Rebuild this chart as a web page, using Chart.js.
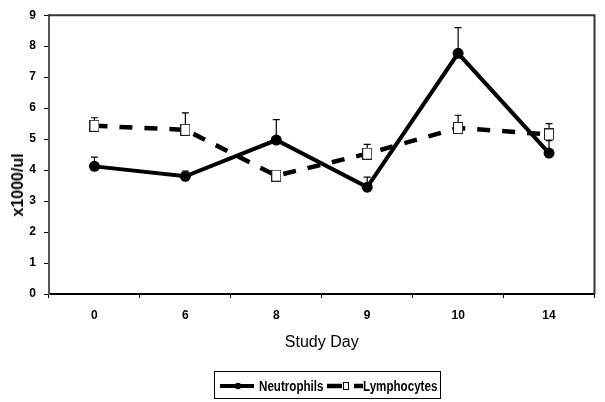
<!DOCTYPE html>
<html>
<head>
<meta charset="utf-8">
<script src="https://cdn.jsdelivr.net/npm/chart.js@4.4.1/dist/chart.umd.min.js"></script>
<style>
  html, body { margin: 0; padding: 0; background: #fff; }
  #wrap { position: relative; width: 605px; height: 402px; overflow: hidden; }
  #c { position: absolute; left: 0; top: 0; }
  #legend { position: absolute; left: 214px; top: 371px; width: 225px; height: 26px; border: 1px solid #000; box-sizing: content-box; }
  .ltxt { position: absolute; top: 0; height: 26px; line-height: 28px; font-family: 'Liberation Sans', Arial, sans-serif; font-weight: bold; font-size: 14.5px; color: #000; white-space: nowrap; transform: scaleX(0.8); transform-origin: 0 50%; }
  #legend svg { position: absolute; left: 0; top: 0; }
  #ytitle { position: absolute; left: 18px; top: 185px; transform: translate(-50%, -50%) rotate(-90deg); font-family: 'Liberation Sans', Arial, sans-serif; font-weight: bold; font-size: 16px; color: #000; white-space: nowrap; line-height: 1; }
</style>
</head>
<body>
<div id="wrap">
  <canvas id="c" width="605" height="402"></canvas>
  <div id="ytitle"></div>
  <div id="legend">
    <svg width="225" height="26">
      <line x1="5" y1="14" x2="39" y2="14" stroke="#000" stroke-width="4"/>
      <circle cx="23" cy="14" r="3.2" fill="#000"/>
      <line x1="112" y1="14" x2="127" y2="14" stroke="#000" stroke-width="4.5"/>
      <line x1="139" y1="14" x2="148" y2="14" stroke="#000" stroke-width="4.5"/>
      <rect x="128.5" y="10.5" width="5" height="7" fill="#fff" stroke="#000" stroke-width="1"/>
    </svg>
    <span class="ltxt" id="lg0" style="left:44px"></span>
    <span class="ltxt" id="lg1" style="left:148px"></span>
  </div>
</div>
<script>
// ---- data ----
const categories = ['0', '6', '8', '9', '10', '14'];
const neutrophils = [4.12, 3.8, 4.97, 3.45, 7.77, 4.55];
const neutrophilsErr = [0.3, 0.17, 0.66, 0.32, 0.83, 0.4];
const lymphocytes = [5.43, 5.3, 3.82, 4.53, 5.36, 5.15];
const lymphocytesErr = [0.26, 0.55, 0, 0.3, 0.41, 0.35];
const seriesNames = ['Neutrophils', 'Lymphocytes'];
const yMin = 0, yMax = 9, yStep = 1;
const xTitle = 'Study Day';
const yTitle = 'x1000/ul';

document.getElementById('ytitle').textContent = yTitle;
document.getElementById('lg0').textContent = seriesNames[0];
document.getElementById('lg1').textContent = seriesNames[1];

const SANS = "'Liberation Sans', Arial, sans-serif";

// square marker (slightly tall like the reference)
const sq = document.createElement('canvas');
sq.width = 10; sq.height = 12;
(function () {
  const g = sq.getContext('2d');
  g.fillStyle = '#fff';
  g.fillRect(0, 0, 10, 12);
  g.strokeStyle = '#222';
  g.lineWidth = 1;
  g.strokeRect(0.5, 0.5, 9, 11);
})();

const errorBars = {
  id: 'errorBars',
  beforeDatasetsDraw(chart) {
    const ctx = chart.ctx;
    const ys = chart.scales.y;
    ctx.save();
    ctx.strokeStyle = '#000';
    ctx.lineWidth = 1.2;
    chart.data.datasets.forEach((ds, di) => {
      const meta = chart.getDatasetMeta(di);
      (ds.errors || []).forEach((e, i) => {
        if (!e) return;
        const pt = meta.data[i];
        const y0 = ys.getPixelForValue(ds.data[i]);
        const y1 = ys.getPixelForValue(ds.data[i] + e);
        ctx.beginPath();
        ctx.moveTo(pt.x, y0);
        ctx.lineTo(pt.x, y1);
        ctx.moveTo(pt.x - 3.5, y1);
        ctx.lineTo(pt.x + 3.5, y1);
        ctx.stroke();
      });
    });
    ctx.restore();
  }
};

const frame = {
  id: 'frame',
  afterDraw(chart) {
    const { ctx, chartArea: a } = chart;
    ctx.save();
    ctx.strokeStyle = '#333';
    ctx.lineWidth = 2;
    ctx.beginPath();
    ctx.moveTo(a.left, a.top);
    ctx.lineTo(a.right, a.top);
    ctx.lineTo(a.right, a.bottom);
    ctx.stroke();
    ctx.restore();
  }
};

new Chart(document.getElementById('c'), {
  type: 'line',
  data: {
    labels: categories,
    datasets: [
      {
        label: seriesNames[0],
        data: neutrophils,
        errors: neutrophilsErr,
        borderColor: '#000',
        backgroundColor: '#000',
        borderWidth: 4,
        pointStyle: 'circle',
        pointRadius: 5.5,
        pointBackgroundColor: '#000',
        pointBorderWidth: 0,
        tension: 0,
        fill: false
      },
      {
        label: seriesNames[1],
        data: lymphocytes,
        errors: lymphocytesErr,
        borderColor: '#000',
        backgroundColor: '#fff',
        borderWidth: 4.5,
        borderDash: [13, 12],
        pointStyle: sq,
        pointRadius: 6,
        tension: 0,
        fill: false
      }
    ]
  },
  options: {
    responsive: false,
    devicePixelRatio: 1,
    animation: false,
    layout: { padding: { top: 10, right: 1, bottom: 48, left: 0 } },
    plugins: { legend: { display: false }, tooltip: { enabled: false } },
    scales: {
      x: {
        type: 'category',
        offset: true,
        grid: { display: true, drawOnChartArea: false, drawTicks: true, tickLength: 4, offset: true, color: '#000' },
        border: { display: true, color: '#000', width: 2 },
        ticks: { padding: 10, color: '#000', font: { family: SANS, size: 12, weight: 'bold' }, maxRotation: 0, autoSkip: false },
        title: { display: true, text: xTitle, color: '#000', font: { family: SANS, size: 16, weight: 'normal' }, padding: { top: 0, bottom: 2 } },
        afterFit(s) { s.height = 60; }
      },
      y: {
        min: yMin, max: yMax,
        grid: { display: true, drawOnChartArea: false, drawTicks: true, tickLength: 5, color: '#000' },
        border: { display: true, color: '#555', width: 2 },
        ticks: { stepSize: yStep, padding: 8, color: '#000', font: { family: SANS, size: 12, weight: 'bold' } },
        title: { display: false },
        afterFit(s) { s.width = 49; }
      }
    }
  },
  plugins: [errorBars, frame]
});
</script>
</body>
</html>
